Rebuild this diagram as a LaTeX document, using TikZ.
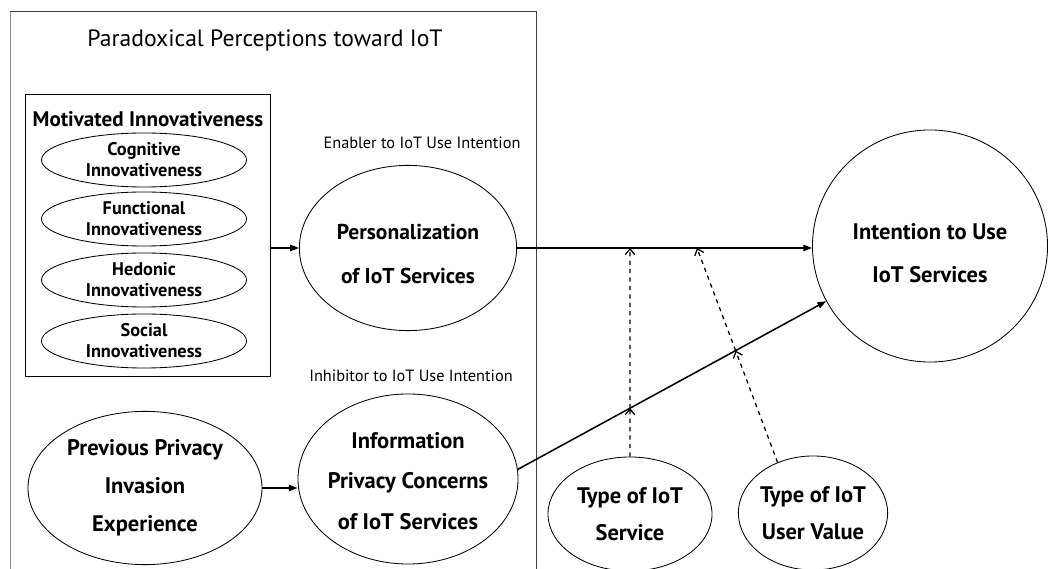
\documentclass[tikz,border=0pt]{standalone}
\usepackage{fontspec}
\setmainfont{PT Sans}
\usetikzlibrary{shapes.geometric, arrows.meta, positioning, calc}

\tikzset{
  bubble/.style={ellipse, draw, line width=0.6pt, inner sep=0pt},
  bigtxt/.style={font=\fontsize{16}{29}\selectfont\bfseries, align=center},
  subtxt/.style={font=\fontsize{13}{15}\selectfont\bfseries, align=center},
  note/.style={font=\fontsize{11.6}{13}\selectfont},
  link/.style={line width=1.1pt, -{Triangle[length=2.2mm, width=1.6mm]}},
  moder/.style={line width=0.9pt, dashed, -{Straight Barb[length=1.4mm, width=2.4mm]}}
}

\begin{document}
\begin{tikzpicture}[x=0.025cm, y=-0.025cm]
  \useasboundingbox (0,0) rectangle (1051,569);

  % Outer frame (open at the bottom)
  \draw[black!45, line width=0.6pt] (10,569) -- (10,11);
  \draw[black!75, line width=0.6pt] (10,11) -- (536,11) -- (536,569);
  \node[font=\fontsize{16.8}{18}\selectfont] (title) at (265,41) {Paradoxical Perceptions toward IoT};

  % Motivated innovativeness block
  \node[draw, line width=0.7pt, minimum width=6.1cm, minimum height=7.03cm] (motiv) at (148,235.5) {};
  \node[font=\fontsize{15}{16}\selectfont\bfseries] (motivtitle) at (148,119) {Motivated Innovativeness};
  \foreach \y/\name/\kind in {160/cog/Cognitive, 219/fun/Functional, 280/hed/Hedonic, 341/soc/Social} {
    \node[bubble, minimum width=5.125cm, minimum height=1.35cm,
      label={[subtxt]center:\kind\\Innovativeness}] (\name) at (144,\y) {};
  }

  % Enabler and inhibitor
  \node[note] (enab) at (422,143) {Enabler to IoT Use Intention};
  \node[bubble, minimum width=5.43cm, minimum height=4.13cm,
    label={[bigtxt, yshift=-0.15cm, font=\fontsize{15.3}{31}\selectfont\bfseries]center:Personalization\\of IoT Services}] (pers) at (408,248) {};
  \node[note] (inhib) at (411,376) {Inhibitor to IoT Use Intention};
  \node[bubble, minimum width=5.5cm, minimum height=4.25cm,
    label={[bigtxt, yshift=-0.05cm]center:Information\\Privacy Concerns\\of IoT Services}] (info) at (408,479) {};
  \node[bubble, minimum width=5.85cm, minimum height=3.83cm,
    label={[bigtxt, font=\fontsize{16}{27}\selectfont\bfseries]center:Previous Privacy\\Invasion\\Experience}] (prev) at (145,488) {};

  % Outcome
  \node[bubble, minimum width=5.875cm, minimum height=5.8cm,
    label={[bigtxt, yshift=-0.18cm, font=\fontsize{16}{31}\selectfont\bfseries]center:Intention to Use\\IoT Services}] (intent) at (930,246) {};

  % Moderators
  \node[bubble, minimum width=4.1cm, minimum height=2.85cm,
    label={[bigtxt, font=\fontsize{16}{26}\selectfont\bfseries]center:Type of IoT\\Service}] (svc) at (630,514) {};
  \node[bubble, minimum width=3.73cm, minimum height=2.85cm,
    label={[bigtxt, font=\fontsize{16}{26}\selectfont\bfseries]center:Type of IoT\\User Value}] (uval) at (813,513) {};

  % Direct paths
  \draw[link] (motiv.east |- pers.west) -- (pers.west);
  \draw[link] (prev.east) -- (prev.east -| info.west);
  \draw[link] (pers.east) -- (pers.east -| intent.west);
  \draw[link] (info.5) -- (intent.208);

  % Moderating paths
  \coordinate (m1) at (svc.north |- pers.east);
  \coordinate (m2) at (697,248);
  \coordinate (c1) at (intersection of svc.north--m1 and info.5--intent.208);
  \coordinate (c2) at (intersection of uval.125--m2 and info.5--intent.208);
  \draw[moder] (svc.north) -- (c1);
  \draw[moder] (c1) -- (m1);
  \draw[moder] (uval.125) -- (c2);
  \draw[moder] (c2) -- (m2);
\end{tikzpicture}
\end{document}
